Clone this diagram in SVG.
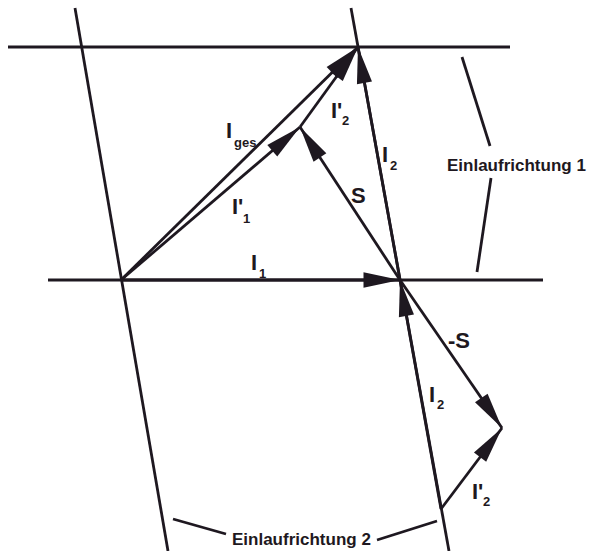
<svg xmlns="http://www.w3.org/2000/svg" width="589" height="551" viewBox="0 0 589 551">
<style>
.ln{stroke:#1e1820;stroke-width:2.8;fill:none}
.ar{stroke:#1e1820;stroke-width:2.8;fill:none;marker-end:url(#ah)}
.lb{font-family:"Liberation Sans",Arial,sans-serif;font-weight:bold;fill:#1e1820;font-size:22px}
.sb{font-size:13px}
.big{font-family:"Liberation Sans",Arial,sans-serif;font-weight:bold;fill:#1e1820;font-size:17px}
</style>
<defs>
<marker id="ah" markerUnits="userSpaceOnUse" markerWidth="40" markerHeight="20" viewBox="-32 -8 34 16" refX="0" refY="0" orient="auto">
<path d="M0,0 L-31,-6.5 L-31,6.5 Z" fill="#1e1820"/>
</marker>
</defs>
<rect width="589" height="551" fill="#ffffff"/>
<g id="construction">
<line class="ln" x1="8" y1="47" x2="510" y2="47"/>
<line class="ln" x1="48" y1="280" x2="543" y2="280"/>
<line class="ln" x1="75" y1="8" x2="168" y2="551"/>
<line class="ln" x1="351" y1="8" x2="449" y2="551"/>
</g>
<g id="connectors">
<line class="ar" x1="121" y1="280" x2="400" y2="280"/>
<line class="ar" x1="121" y1="280" x2="358" y2="47"/>
<line class="ar" x1="121" y1="280" x2="300" y2="127"/>
<line class="ar" x1="400" y1="280" x2="300" y2="127"/>
<line class="ar" x1="300" y1="127" x2="358" y2="47"/>
<line class="ar" x1="400" y1="280" x2="358" y2="47"/>
<line class="ar" x1="400" y1="280" x2="502" y2="428"/>
<line class="ar" x1="441" y1="509" x2="400" y2="280"/>
<line class="ar" x1="441" y1="509" x2="502" y2="428"/>
</g>
<g id="labels">
<text class="lb" x="226" y="138">I<tspan class="sb" x="234" y="147">ges</tspan></text>
<text class="lb" x="331" y="118">I'<tspan class="sb" x="342" y="125">2</tspan></text>
<text class="lb" x="382" y="162">I<tspan class="sb" x="390" y="170">2</tspan></text>
<text class="lb" x="351" y="203">S</text>
<text class="lb" x="232" y="214">I'<tspan class="sb" x="243" y="223">1</tspan></text>
<text class="lb" x="251" y="270">I<tspan class="sb" x="259" y="278">1</tspan></text>
<text class="lb" x="448" y="348">-S</text>
<text class="lb" x="429" y="402">I<tspan class="sb" x="437" y="409">2</tspan></text>
<text class="lb" x="472" y="499">I'<tspan class="sb" x="483" y="506">2</tspan></text>
</g>
<g id="einlauf1">
<line class="ln" x1="462" y1="57" x2="490" y2="146"/>
<line class="ln" x1="491" y1="178" x2="477" y2="272"/>
<text class="big" x="447" y="171">Einlaufrichtung 1</text>
</g>
<g id="einlauf2">
<line class="ln" x1="173" y1="519" x2="226" y2="534"/>
<line class="ln" x1="377" y1="540" x2="437" y2="521"/>
<text class="big" x="232" y="545">Einlaufrichtung 2</text>
</g>
</svg>
